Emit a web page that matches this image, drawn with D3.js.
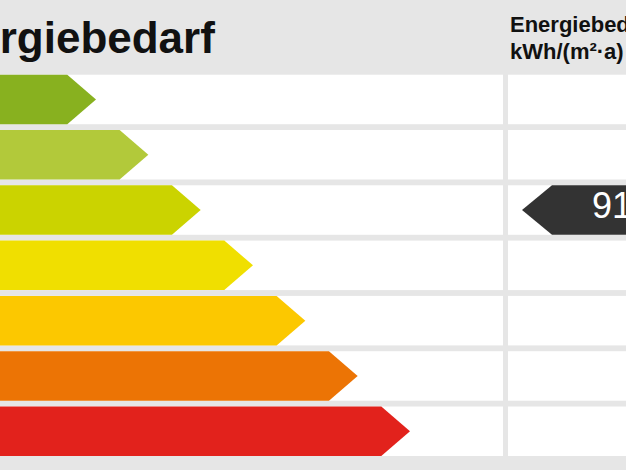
<!DOCTYPE html>
<html>
<head>
<meta charset="utf-8">
<script src="https://cdn.jsdelivr.net/npm/d3@7"></script>
<style>
  html, body { margin: 0; padding: 0; background: #e6e6e6; overflow: hidden; }
  svg { display: block; font-family: "Liberation Sans", Arial, sans-serif; }
</style>
</head>
<body>
<svg id="chart"></svg>
<script>
// energy classes, top to bottom
const classes = ["A", "B", "C", "D", "E", "F", "G"];
const classColors = ["#88b11f", "#b2c93a", "#cbd300", "#f0df00", "#fcc800", "#ec7405", "#e2221c"];
const titleText = "Energiebedarf";
const valueHeader = ["Energiebedarf", "kWh/(m²·a)"];
const energyValue = 91;
const valueClass = "C";

const config = {
  width: 626,
  height: 470,
  rowsTop: 74.7,
  rowsBottom: 456,
  divider: 503,
  gap: 5,
  titleX: -81
}

let svg = d3.select('#chart')
  .attr('width', config.width)
  .attr('height', config.height);

svg.append('rect')
  .attr('width', config.width)
  .attr('height', config.height)
  .attr('fill', '#e6e6e6');

let y = d3.scaleBand()
  .domain(classes)
  .range([config.rowsTop, config.rowsBottom])
  .paddingInner(0.105);

// arrow tip position by class rank
let x = d3.scaleLinear()
  .domain([1, classes.length])
  .range([96, 410]);

// Title
svg.append('text')
  .attr('x', config.titleX)
  .attr('y', 53)
  .style('font-size', '44px')
  .style('font-weight', 'bold')
  .attr('fill', '#111')
  .text(titleText);

// value column header
svg.append('text')
  .attr('x', 510)
  .attr('y', 31.5)
  .style('font-size', '22px')
  .style('font-weight', 'bold')
  .attr('fill', '#111')
  .selectAll('tspan')
  .data(valueHeader)
  .join('tspan')
  .attr('x', 510)
  .attr('dy', (d, i) => i == 0 ? 0 : 27.5)
  .text(d => d);

// white rows, both columns
let rows = svg.append('g').attr('class', 'rows');
rows.selectAll('.row-left')
  .data(classes)
  .join('rect')
  .attr('class', 'row-left')
  .attr('x', -100)
  .attr('y', d => y(d))
  .attr('width', config.divider + 100)
  .attr('height', y.bandwidth())
  .attr('fill', '#fff');
rows.selectAll('.row-right')
  .data(classes)
  .join('rect')
  .attr('class', 'row-right')
  .attr('x', config.divider + config.gap)
  .attr('y', d => y(d))
  .attr('width', config.width)
  .attr('height', y.bandwidth())
  .attr('fill', '#fff');

// class arrows
let depth = y.bandwidth() * 0.58;
svg.append('g')
  .attr('class', 'arrows')
  .selectAll('path')
  .data(classes)
  .join('path')
  .attr('d', (d, i) => {
    let tip = x(i + 1), top = y(d), h = y.bandwidth();
    return `M-100,${top}L${tip - depth},${top}L${tip},${top + h/2}L${tip - depth},${top + h}L-100,${top + h}Z`;
  })
  .attr('fill', (d, i) => classColors[i]);

// value marker
let mTop = y(valueClass), mH = y.bandwidth();
let mTip = config.divider + config.gap + 14;
let marker = svg.append('g').attr('class', 'marker');
marker.append('path')
  .attr('d', `M${mTip},${mTop + mH/2}L${mTip + 30},${mTop}L${config.width + 50},${mTop}L${config.width + 50},${mTop + mH}L${mTip + 30},${mTop + mH}Z`)
  .attr('fill', '#333');
marker.append('text')
  .attr('x', mTip + 70)
  .attr('y', mTop + 33)
  .style('font-size', '36px')
  .attr('fill', '#fff')
  .text(energyValue);
</script>
</body>
</html>
